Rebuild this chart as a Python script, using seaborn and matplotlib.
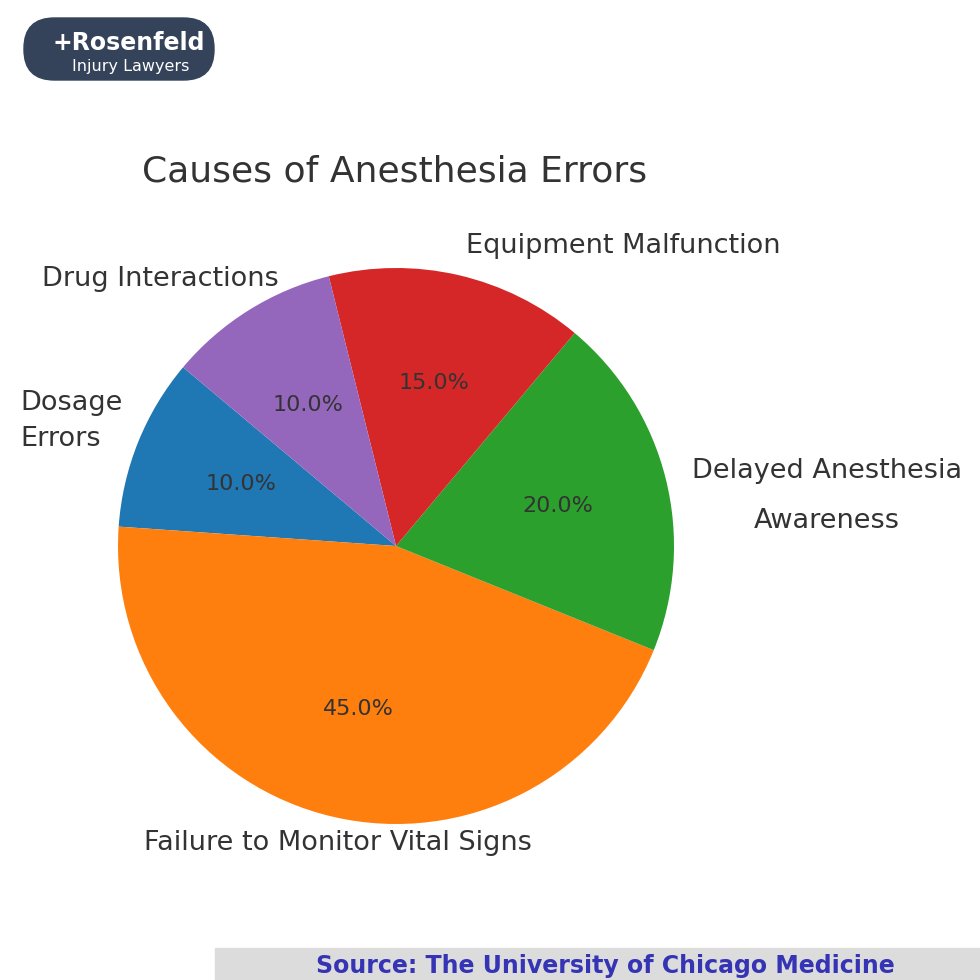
import matplotlib
matplotlib.use("Agg")
import matplotlib.pyplot as plt
import seaborn as sns
from matplotlib.patches import FancyBboxPatch, Rectangle

# --- Data --------------------------------------------------------------------
CATEGORIES = ["Dosage\nErrors", "Failure to Monitor Vital Signs",
              "Delayed Anesthesia\nAwareness", "Equipment Malfunction",
              "Drug Interactions"]
SHARES = [10, 45, 20, 15, 10]

sns.set_theme(style="white")
colors = sns.color_palette("tab10", len(SHARES))

W = 980
fig = plt.figure(figsize=(9.8, 9.8), dpi=100)
fig.patch.set_facecolor("white")

# pie axes: centre (396, 546) px, radius 278 px
cx, cy, r = 396, 546, 278
ax = fig.add_axes([(cx - r) / W, (W - cy - r) / W, 2 * r / W, 2 * r / W])
wedges, texts, autotexts = ax.pie(
    SHARES, labels=CATEGORIES, colors=colors, startangle=140,
    autopct="%1.1f%%", pctdistance=0.6,
    wedgeprops={"linewidth": 0},
    textprops={"fontsize": 19.5, "color": "#333333"},
)
for t in autotexts:
    t.set_fontsize(16)
ax.set_xlim(-1, 1)
ax.set_ylim(-1, 1)
ax.set_aspect("equal")

# label placement (data units of the pie axes)
label_pos = [(-1.35, 0.45, "left", 1.5), (-0.21, -1.07, "center", 1.2),
             (1.55, 0.18, "center", 2.2), (0.25, 1.08, "left", 1.2),
             (-0.42, 0.96, "right", 1.2)]
for t, (x, y, ha, ls) in zip(texts, label_pos):
    t.set_position((x, y))
    t.set_ha(ha)
    t.set_va("center")
    t.set_multialignment(ha)
    t.set_linespacing(ls)

fig.text(395 / W, 1 - 172 / W, "Causes of Anesthesia Errors",
         fontsize=26, color="#333333", ha="center", va="center")

# logo
fig.patches.append(FancyBboxPatch((24 / W, 1 - 80 / W), 190 / W, 62 / W,
                                  boxstyle="round,pad=0,rounding_size=0.031",
                                  transform=fig.transFigure, color="#34425a"))
fig.text(52 / W, 1 - 43 / W, "+Rosenfeld", fontsize=17, fontweight="bold",
         color="white", ha="left", va="center")
fig.text(72 / W, 1 - 66 / W, "Injury Lawyers", fontsize=11.5,
         color="white", ha="left", va="center")

# source bar
fig.patches.append(Rectangle((215 / W, 0), 765 / W, 32 / W,
                             transform=fig.transFigure, color="#dcdcdc"))
fig.text(605 / W, 14 / W, "Source: The University of Chicago Medicine",
         fontsize=17, fontweight="bold", color="#3434b4",
         ha="center", va="center")

fig.savefig("out.png", dpi=100, facecolor="white")
